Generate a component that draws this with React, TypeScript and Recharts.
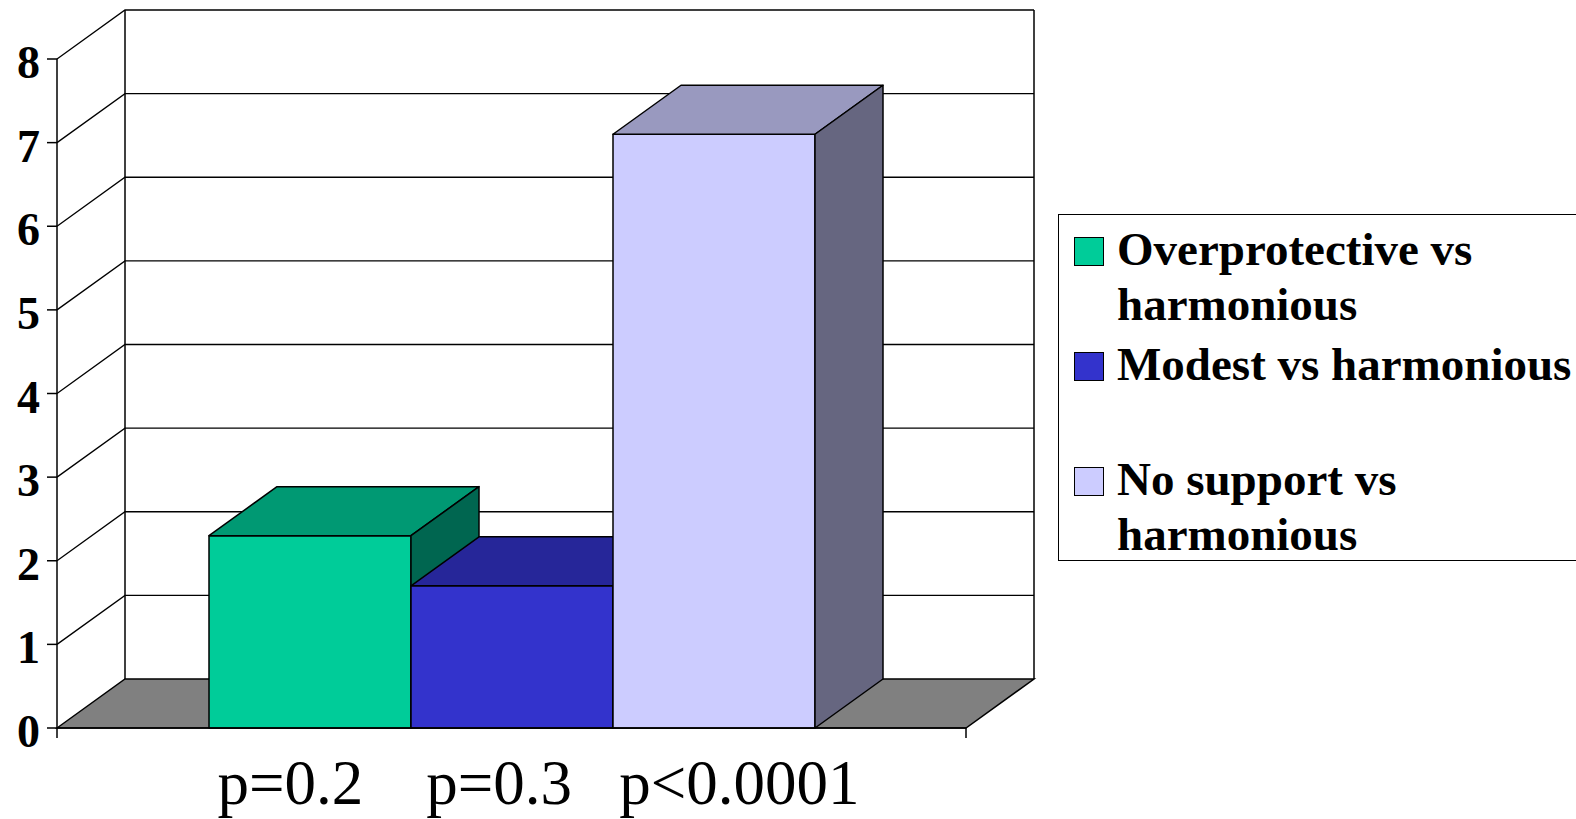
import React from "react";
import { BarChart, Bar, XAxis, YAxis, CartesianGrid, Legend } from "recharts";

// single category, the three p-values sit in one label under the cluster
const categories = ["p=0.2    p=0.3   p<0.0001"];
const seriesNames = ["Overprotective vs harmonious", "Modest vs harmonious", "No support vs harmonious"];
const overprotective = [2.3];
const modest = [1.7];
const noSupport = [7.1];
const yTicks = [0, 1, 2, 3, 4, 5, 6, 7, 8];

const FACE = ["#00CC99", "#3333CC", "#CCCCFF"];
const TOP = ["#009973", "#262699", "#9999BF"];
const SIDE = ["#006650", "#1A1A66", "#666680"];

// depth of the fake 3d box
const DX = 68;
const DY = 49;
const FONT = '"Liberation Serif", "Times New Roman", serif';

const data = categories.map((name, i) => ({
  name,
  overprotective: overprotective[i],
  modest: modest[i],
  noSupport: noSupport[i],
}));

function box(idx: number) {
  return (props: any) => {
    const { x, y, width: w, height: h } = props;
    const st = { stroke: "#000", strokeWidth: 1.5, strokeLinejoin: "round" as const };
    return (
      <g>
        <rect x={x} y={y} width={w} height={h} fill={FACE[idx]} {...st} />
        <polygon
          points={`${x},${y} ${x + DX},${y - DY} ${x + w + DX},${y - DY} ${x + w},${y}`}
          fill={TOP[idx]}
          {...st}
        />
        <polygon
          points={`${x + w},${y} ${x + w + DX},${y - DY} ${x + w + DX},${y + h - DY} ${x + w},${y + h}`}
          fill={SIDE[idx]}
          {...st}
        />
      </g>
    );
  };
}

// each gridline runs along the side wall and then across the back wall;
// the zero line also carries the floor and the wall edges
function gridLine(props: any) {
  const { x1, x2, y1: y, horizontalPoints, index } = props;
  const pts: number[] = horizontalPoints && horizontalPoints.length ? horizontalPoints : [y];
  const bottom = Math.max(...pts);
  const top = Math.min(...pts);
  const k = `hl-${index}`;
  if (Math.abs(y - bottom) < 0.5) {
    return (
      <g key={k} stroke="#000">
        <line x1={x1 + DX} y1={top - DY} x2={x1 + DX} y2={y - DY} strokeWidth={1.5} />
        <line x1={x2 + DX} y1={top - DY} x2={x2 + DX} y2={y - DY} strokeWidth={1.5} />
        <polygon
          points={`${x1},${y} ${x1 + DX},${y - DY} ${x2 + DX},${y - DY} ${x2},${y}`}
          fill="#808080"
          strokeWidth={1.5}
        />
        <line x1={x1} y1={y} x2={x1} y2={y + 10} strokeWidth={1.5} />
        <line x1={x2} y1={y} x2={x2} y2={y + 10} strokeWidth={1.5} />
      </g>
    );
  }
  return (
    <polyline
      key={k}
      points={`${x1},${y} ${x1 + DX},${y - DY} ${x2 + DX},${y - DY}`}
      fill="none"
      stroke="#000"
      strokeWidth={1.3}
    />
  );
}

function XTick(props: any) {
  const { x, y, payload } = props;
  return (
    <text
      x={x + 27}
      y={y + 76}
      textAnchor="middle"
      fontFamily={FONT}
      fontSize={63}
      fill="#000"
      xmlSpace="preserve"
      style={{ whiteSpace: "pre" }}
    >
      {payload.value}
    </text>
  );
}

function YTick(props: any) {
  const { x, y, payload } = props;
  return (
    <text x={x} y={y + 19} textAnchor="end" fontFamily={FONT} fontWeight="bold" fontSize={46} fill="#000">
      {payload.value}
    </text>
  );
}

function LegendBox() {
  return (
    <div
      style={{
        border: "1.5px solid #000",
        background: "#fff",
        width: 540,
        height: 347,
        boxSizing: "border-box",
        paddingTop: 7,
        fontFamily: FONT,
        fontWeight: "bold",
        fontSize: 47,
        lineHeight: "55px",
        color: "#000",
      }}
    >
      {seriesNames.map((name, i) => (
        <div key={name} style={{ position: "relative", height: 110, marginBottom: 5 }}>
          <span
            style={{
              position: "absolute",
              left: 15,
              top: 15,
              width: 30,
              height: 29,
              boxSizing: "border-box",
              border: "1.5px solid #000",
              background: FACE[i],
            }}
          />
          <div style={{ position: "absolute", left: 58, top: 0, width: 470 }}>{name}</div>
        </div>
      ))}
    </div>
  );
}

export default function App() {
  return (
    <div
      style={{
        position: "absolute",
        left: 0,
        top: 0,
        width: 1576,
        height: 819,
        overflow: "hidden",
        background: "#fff",
      }}
    >
      <BarChart
        width={1576}
        height={819}
        data={data}
        margin={{ top: 59, right: 610, bottom: 0, left: 0 }}
        barCategoryGap={152}
        barGap={0}
      >
        <CartesianGrid vertical={false} horizontal={gridLine} stroke="#000" />
        <XAxis
          dataKey="name"
          height={91}
          interval={0}
          tickLine={false}
          tickSize={0}
          tickMargin={0}
          axisLine={{ stroke: "#000", strokeWidth: 1.5 }}
          tick={<XTick />}
        />
        <YAxis
          width={57}
          domain={[0, 8]}
          ticks={yTicks}
          interval={0}
          tickSize={10}
          tickMargin={7}
          axisLine={{ stroke: "#000", strokeWidth: 1.5 }}
          tickLine={{ stroke: "#000", strokeWidth: 1.5 }}
          tick={<YTick />}
        />
        <Legend
          layout="vertical"
          align="center"
          verticalAlign="middle"
          wrapperStyle={{ left: 1058, top: 214, width: 540 }}
          content={() => <LegendBox />}
        />
        <Bar dataKey="overprotective" name={seriesNames[0]} fill={FACE[0]} shape={box(0)} isAnimationActive={false} />
        <Bar dataKey="modest" name={seriesNames[1]} fill={FACE[1]} shape={box(1)} isAnimationActive={false} />
        <Bar dataKey="noSupport" name={seriesNames[2]} fill={FACE[2]} shape={box(2)} isAnimationActive={false} />
      </BarChart>
    </div>
  );
}
